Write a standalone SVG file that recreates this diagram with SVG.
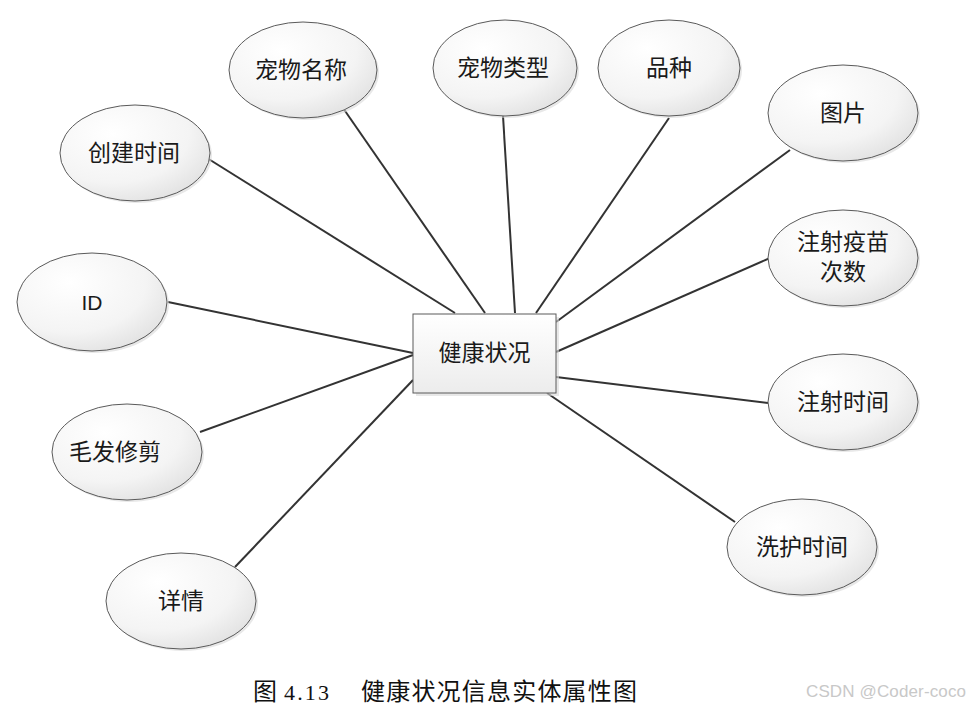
<svg xmlns="http://www.w3.org/2000/svg" width="971" height="707" viewBox="0 0 971 707">
<defs>
<radialGradient id="eg" cx="0.35" cy="0.3" r="0.85">
<stop offset="0" stop-color="#ffffff"/>
<stop offset="0.6" stop-color="#f4f4f4"/>
<stop offset="1" stop-color="#dcdcdc"/>
</radialGradient>
<linearGradient id="rg" x1="0" y1="0" x2="0" y2="1">
<stop offset="0" stop-color="#ffffff"/>
<stop offset="1" stop-color="#ececec"/>
</linearGradient>
</defs>
<style>
.e{fill:url(#eg);stroke:#5a5a5a;stroke-width:1}
.sh{fill:#d8d8d8;opacity:0.6}
.t{font-family:"Liberation Serif","Noto Sans CJK SC",serif;font-size:23px;fill:#1a1a1a;text-anchor:middle;dominant-baseline:central}
.cap{font-family:"Liberation Serif","Noto Sans CJK SC",serif;font-size:24px;fill:#111}
.c line{stroke:#333;stroke-width:2}
</style>
<rect width="971" height="707" fill="#ffffff"/>
<g class="c" id="connectors">
<line x1="207" y1="158" x2="455" y2="313"/>
<line x1="343" y1="108" x2="485" y2="313"/>
<line x1="503" y1="116" x2="515" y2="313"/>
<line x1="669" y1="118" x2="536" y2="313"/>
<line x1="790" y1="150" x2="556" y2="322"/>
<line x1="770" y1="258" x2="556" y2="352"/>
<line x1="768" y1="403" x2="556" y2="377"/>
<line x1="735" y1="522" x2="547" y2="393"/>
<line x1="168" y1="302" x2="413" y2="353"/>
<line x1="200" y1="432" x2="413" y2="355"/>
<line x1="235" y1="567" x2="413" y2="380"/>
</g>
<g id="center">
<rect x="416" y="317" width="143" height="79" class="sh"/>
<rect x="413" y="314" width="143" height="79" fill="url(#rg)" stroke="#5a5a5a" stroke-width="1"/>
<text class="t" x="484.5" y="353">健康状况</text>
</g>
<g id="n-name"><ellipse class="sh" cx="305" cy="72" rx="74" ry="48"/><ellipse class="e" cx="303" cy="70" rx="74" ry="48"/><text class="t" x="301" y="70">宠物名称</text></g>
<g id="n-type"><ellipse class="sh" cx="507" cy="70" rx="72" ry="48"/><ellipse class="e" cx="505" cy="68" rx="72" ry="48"/><text class="t" x="503" y="68">宠物类型</text></g>
<g id="n-breed"><ellipse class="sh" cx="671" cy="70" rx="71" ry="48"/><ellipse class="e" cx="669" cy="68" rx="71" ry="48"/><text class="t" x="669" y="68">品种</text></g>
<g id="n-pic"><ellipse class="sh" cx="845" cy="115" rx="75" ry="48"/><ellipse class="e" cx="843" cy="113" rx="75" ry="48"/><text class="t" x="843" y="113">图片</text></g>
<g id="n-created"><ellipse class="sh" cx="137" cy="155" rx="75" ry="48"/><ellipse class="e" cx="135" cy="153" rx="75" ry="48"/><text class="t" x="134" y="153">创建时间</text></g>
<g id="n-vaccine"><ellipse class="sh" cx="845" cy="260" rx="75" ry="48"/><ellipse class="e" cx="843" cy="258" rx="75" ry="48"/><text class="t" x="843" y="242">注射疫苗</text><text class="t" x="843" y="272">次数</text></g>
<g id="n-id"><ellipse class="sh" cx="94" cy="304" rx="75" ry="49"/><ellipse class="e" cx="92" cy="302" rx="75" ry="49"/><text class="t" x="92" y="302" style="font-family:'Liberation Sans',sans-serif;font-size:21px">ID</text></g>
<g id="n-injtime"><ellipse class="sh" cx="845" cy="404" rx="75" ry="48"/><ellipse class="e" cx="843" cy="402" rx="75" ry="48"/><text class="t" x="843" y="402">注射时间</text></g>
<g id="n-hair"><ellipse class="sh" cx="129" cy="454" rx="75" ry="48"/><ellipse class="e" cx="127" cy="452" rx="75" ry="48"/><text class="t" x="115" y="452">毛发修剪</text></g>
<g id="n-wash"><ellipse class="sh" cx="804" cy="549" rx="75" ry="48"/><ellipse class="e" cx="802" cy="547" rx="75" ry="48"/><text class="t" x="802" y="547">洗护时间</text></g>
<g id="n-detail"><ellipse class="sh" cx="183" cy="603" rx="75" ry="48"/><ellipse class="e" cx="181" cy="601" rx="75" ry="48"/><text class="t" x="181" y="601">详情</text></g>
<g id="caption">
<text class="cap" x="253" y="700">图</text>
<text class="cap" x="284" y="700" textLength="45" lengthAdjust="spacing" style="font-size:22px">4.13</text>
<text class="cap" x="361" y="700" textLength="276" lengthAdjust="spacing">健康状况信息实体属性图</text>
</g>
<text x="806" y="697" textLength="160" style="font-family:'Liberation Sans',sans-serif;font-size:17px;fill:#c8c8c8">CSDN @Coder-coco</text>
</svg>
